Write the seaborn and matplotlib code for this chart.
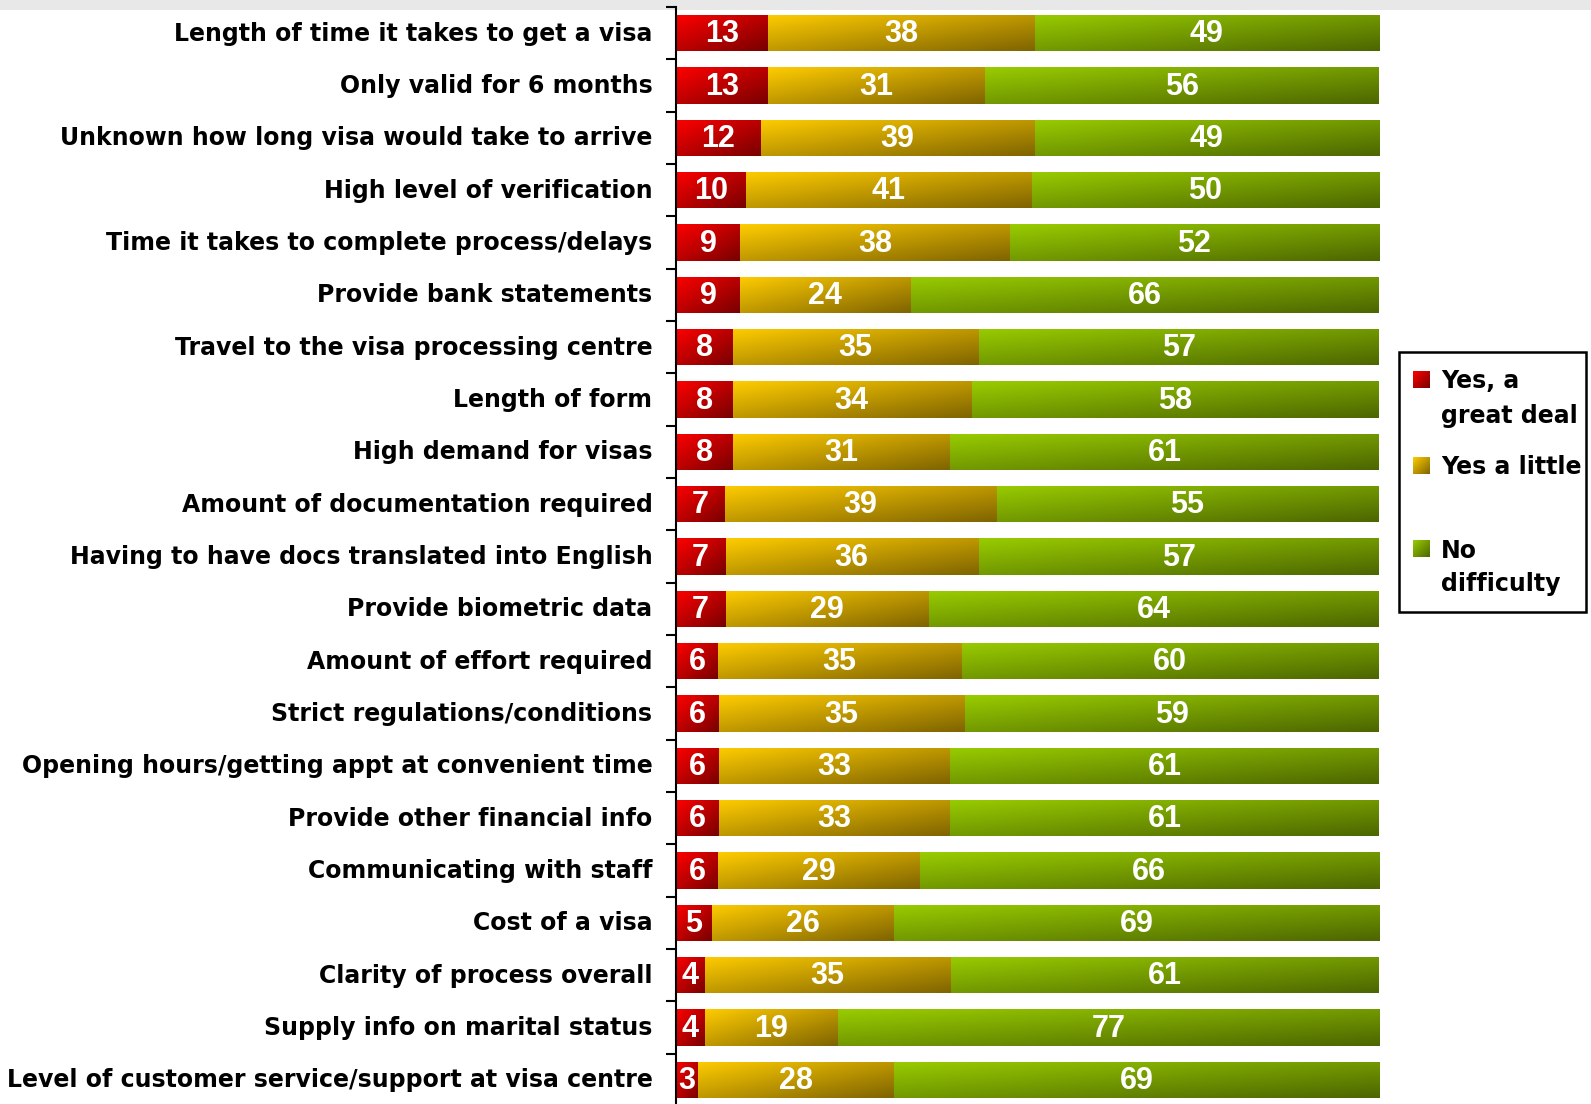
import matplotlib
matplotlib.use("Agg")
import matplotlib.pyplot as plt
import matplotlib.colors as mcolors
import matplotlib.transforms as mtransforms
from matplotlib.patches import Rectangle
import seaborn as sns
import numpy as np
import pandas as pd

categories = [
    "Length of time it takes to get a visa",
    "Only valid for 6 months",
    "Unknown how long visa would take to arrive",
    "High level of verification",
    "Time it takes to complete process/delays",
    "Provide bank statements",
    "Travel to the visa processing centre",
    "Length of form",
    "High demand for visas",
    "Amount of documentation required",
    "Having to have docs translated into English",
    "Provide biometric data",
    "Amount of effort required",
    "Strict regulations/conditions",
    "Opening hours/getting appt at convenient time",
    "Provide other financial info",
    "Communicating with staff",
    "Cost of a visa",
    "Clarity of process overall",
    "Supply info on marital status",
    "Level of customer service/support at visa centre",
]
great_deal = [13, 13, 12, 10, 9, 9, 8, 8, 8, 7, 7, 7, 6, 6, 6, 6, 6, 5, 4, 4, 3]
a_little = [38, 31, 39, 41, 38, 24, 35, 34, 31, 39, 36, 29, 35, 35, 33, 33, 29, 26, 35, 19, 28]
no_difficulty = [49, 56, 49, 50, 52, 66, 57, 58, 61, 55, 57, 64, 60, 59, 61, 61, 66, 69, 61, 77, 69]

series_names = [["Yes, a", "great deal"], ["Yes a little"], ["No", "difficulty"]]
# (top-left colour, bottom-right colour) of each gradient fill
grad_colors = [("#FF0000", "#780000"), ("#FFCC00", "#7F6400"), ("#99CC00", "#4C6600")]

W, H = 1591, 1104
TEXT_FONT = "DejaVu Sans"
NUM_FONT = "Liberation Sans"


def gradient(c0, c1, n=64):
    a = np.array(mcolors.to_rgb(c0))
    b = np.array(mcolors.to_rgb(c1))
    u = np.linspace(0, 1, n)
    t = (u[None, :] + u[:, None]) / 2
    return a + (b - a) * t[..., None]


# 100% stacked: normalise each row, keep raw values for the labels
raw = np.array([great_deal, a_little, no_difficulty], dtype=float)
share = raw / raw.sum(axis=0) * 100
starts = np.vstack([np.zeros(len(categories)), np.cumsum(share, axis=0)[:-1]])

df = pd.DataFrame({"category": categories})
for k in range(3):
    df[f"cum{k}"] = starts[k] + share[k]

sns.set_style("white")
plt.rcParams["font.family"] = [TEXT_FONT]
plt.rcParams["text.color"] = "black"

fig = plt.figure(figsize=(W / 100, H / 100), dpi=100)
ov = fig.add_axes([0, 0, 1, 1], zorder=0)
ov.axis("off")

ax = fig.add_axes([676 / W, -2 / H, 703 / W, (H - 7 + 2) / H], zorder=1)
ax.set_facecolor("none")

# layered cumulative bars, longest first
for k in [2, 1, 0]:
    sns.barplot(data=df, x=f"cum{k}", y="category", orient="h", color=grad_colors[k][0],
                width=0.69, saturation=1, errorbar=None, ax=ax)

# containers come in drawing order 2, 1, 0 -> turn each into its own segment
for cont, k in zip(ax.containers, [2, 1, 0]):
    img = gradient(*grad_colors[k])
    for i, p in enumerate(cont.patches):
        p.set_x(starts[k][i])
        p.set_width(share[k][i])
        p.set_linewidth(0)
        x0, y0 = p.get_x(), p.get_y()
        im = ax.imshow(img, extent=(x0, x0 + p.get_width(), y0 + p.get_height(), y0),
                       origin="upper", aspect="auto", interpolation="bilinear", zorder=2)
        im.set_clip_path(p)
    texts = ax.bar_label(cont, labels=[f"{v:g}" for v in raw[k]], label_type="center",
                         color="white", fontsize=22, fontweight="bold", family=NUM_FONT)
    for t in texts:
        t.set_zorder(3)
        t.set_va("baseline")
        t.xyann = (0, -6.6)

ax.set_xlim(0, 100)
ax.set_ylim(len(categories) - 0.5, -0.5)
ax.xaxis.set_visible(False)
ax.set_ylabel("")
ax.set_yticks(range(len(categories)))
ax.set_yticklabels(categories, fontsize=17, fontweight="bold", family=TEXT_FONT, color="black")
ax.set_yticks(np.arange(-0.5, len(categories), 1), minor=True)
ax.tick_params(axis="y", which="major", left=True, length=0, pad=17)
ax.tick_params(axis="y", which="minor", left=True, length=7, width=1.5,
               direction="out", color="black")
shift = mtransforms.ScaledTranslation(0, 2 / 100, fig.dpi_scale_trans)
for lbl in ax.get_yticklabels():
    lbl.set_transform(lbl.get_transform() + shift)
for s in ["top", "right", "bottom"]:
    ax.spines[s].set_visible(False)
ax.spines["left"].set_linewidth(1.5)
ax.spines["left"].set_color("black")

# grey band at the top
ov.add_patch(Rectangle((0, 0), W, 10, color="#E8E8E8", lw=0))

# legend box
ov.add_patch(Rectangle((1399, 352), 187, 260, fill=False, ec="black", lw=1.8))
leg_rows = [380, 466, 549]
for k, y in enumerate(leg_rows):
    ov.imshow(gradient(*grad_colors[k]), extent=(1413, 1430, y + 8.5, y - 8.5),
              origin="upper", aspect="auto", interpolation="bilinear")
    for j, line in enumerate(series_names[k]):
        ov.text(1441, y + 8.5 + 34 * j, line, fontsize=17, fontweight="bold",
                family=TEXT_FONT, va="baseline", ha="left", color="black")
ov.set_xlim(0, W)
ov.set_ylim(H, 0)

fig.savefig("out.png", dpi=100)
